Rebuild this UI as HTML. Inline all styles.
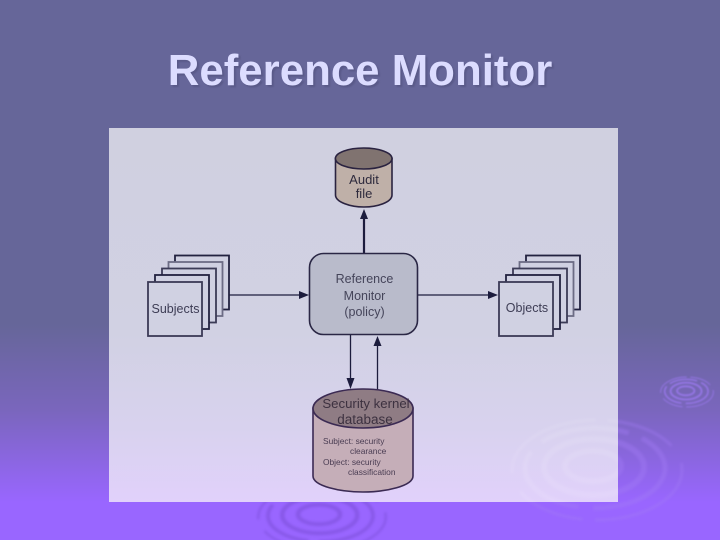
<!DOCTYPE html>
<html>
<head>
<meta charset="utf-8">
<style>
html,body{margin:0;padding:0;background:#666699;}
svg{display:block;}
text{font-family:"Liberation Sans",sans-serif;}
</style>
</head>
<body>
<svg xmlns="http://www.w3.org/2000/svg" width="720" height="540" viewBox="0 0 720 540">
<defs>
<linearGradient id="bg" x1="0" y1="0" x2="0" y2="1">
<stop offset="0" stop-color="#666699"/>
<stop offset="0.6" stop-color="#666699"/>
<stop offset="0.76" stop-color="#7a66bd"/>
<stop offset="0.93" stop-color="#9966ff"/>
<stop offset="1" stop-color="#9966ff"/>
</linearGradient>
<linearGradient id="panel" x1="0" y1="0" x2="0" y2="1">
<stop offset="0" stop-color="#d0d0e0"/>
<stop offset="0.55" stop-color="#d1d1e3"/>
<stop offset="0.8" stop-color="#d8d2ee"/>
<stop offset="1" stop-color="#e1d1fb"/>
</linearGradient>
<clipPath id="pc"><rect x="109" y="128" width="509" height="374"/></clipPath>
<filter id="b1" x="-20%" y="-20%" width="140%" height="140%"><feGaussianBlur stdDeviation="1.4"/></filter>
<filter id="b2" x="-20%" y="-20%" width="140%" height="140%"><feGaussianBlur stdDeviation="0.7"/></filter>
<filter id="b0" x="-5%" y="-5%" width="110%" height="110%"><feGaussianBlur stdDeviation="0.35"/></filter>
<g id="ripple" fill="none">
<ellipse cx="0" cy="0" rx="85" ry="50" stroke-width="3" stroke-dasharray="110 12 70 20"/>
<ellipse cx="-2" cy="-2" rx="70" ry="40" stroke-width="5" stroke-dasharray="90 14"/>
<ellipse cx="-3" cy="-3" rx="50" ry="28" stroke-width="6"/>
<ellipse cx="-4" cy="-4" rx="28" ry="15" stroke-width="6"/>
</g>
</defs>

<rect width="720" height="540" fill="url(#bg)"/>

<!-- background ripples -->
<g filter="url(#b1)" stroke="#a27af4" opacity="0.4">
<use href="#ripple" transform="translate(597 470)"/>
<use href="#ripple" transform="translate(322 517) scale(0.75 0.65)" stroke="#6f45c8"/>
</g>
<g filter="url(#b2)">
<use href="#ripple" transform="translate(687 392) scale(0.31 0.3)" stroke="#9a78ee" opacity="0.85"/>
</g>

<!-- title -->
<text x="362" y="87" text-anchor="middle" font-size="43.8" font-weight="bold" fill="#4f4f7c" opacity="0.55" filter="url(#b2)">Reference Monitor</text>
<text x="360" y="85" text-anchor="middle" font-size="43.8" font-weight="bold" fill="#dcdcff">Reference Monitor</text>

<!-- panel -->
<rect x="109" y="128" width="509" height="374" fill="url(#panel)"/>
<g clip-path="url(#pc)" filter="url(#b1)" stroke="#ffffff" opacity="0.09">
<use href="#ripple" transform="translate(597 470)"/>
</g>

<g filter="url(#b0)">
<!-- connectors -->
<g stroke="#1f1d3d" fill="none">
<line x1="364" y1="253" x2="364" y2="215" stroke-width="2.2"/>
<line x1="229" y1="295" x2="304" y2="295" stroke-width="1.3"/>
<line x1="418" y1="295" x2="492" y2="295" stroke-width="1.3"/>
<line x1="350.5" y1="335" x2="350.5" y2="382" stroke-width="1.3"/>
<line x1="377.5" y1="389" x2="377.5" y2="342" stroke-width="1.3"/>
</g>
<g fill="#1f1d3d">
<polygon points="364,209 360,219 368,219"/>
<polygon points="309,295 299,291 299,299"/>
<polygon points="498,295 488,291 488,299"/>
<polygon points="350.5,389 346.5,378 354.5,378"/>
<polygon points="377.5,336 373.5,346 381.5,346"/>
</g>

<!-- audit file -->
<path d="M335.5 158.5 V195 C335.5 202 350 207 364 207 C378 207 392 202 392 195 V158.5 Z" fill="#bfb0a8" stroke="#2a2440" stroke-width="1.6"/>
<ellipse cx="363.7" cy="158.5" rx="28.3" ry="10.5" fill="#80736f" stroke="#2a2440" stroke-width="1.6"/>
<text x="364" y="184" text-anchor="middle" font-size="13" fill="#2e2a3c">Audit</text>
<text x="364" y="198" text-anchor="middle" font-size="13" fill="#2e2a3c">file</text>

<!-- reference monitor -->
<rect x="309.5" y="253.5" width="108" height="81" rx="14" ry="14" fill="#b9bbcb" stroke="#2a2844" stroke-width="1.6"/>
<text x="364.5" y="283" text-anchor="middle" font-size="12.5" fill="#45445a">Reference</text>
<text x="364.5" y="300" text-anchor="middle" font-size="12.5" fill="#45445a">Monitor</text>
<text x="364.5" y="316" text-anchor="middle" font-size="12.5" fill="#45445a">(policy)</text>

<!-- subjects stack -->
<g fill="#d0d1e2" stroke-width="1.8">
<rect x="175" y="255.5" width="54" height="54" stroke="#23213f"/>
<rect x="168.5" y="262" width="54" height="54" stroke="#6c6c85"/>
<rect x="162" y="268.5" width="54" height="54" stroke="#3b3a56"/>
<rect x="155" y="275" width="54" height="54" stroke="#23213f"/>
<rect x="148" y="282" width="54" height="54" stroke="#3b3a56"/>
</g>
<text x="175.5" y="313" text-anchor="middle" font-size="12.5" fill="#3e3d55">Subjects</text>

<!-- objects stack -->
<g fill="#d0d1e2" stroke-width="1.8">
<rect x="526" y="255.5" width="54" height="54" stroke="#23213f"/>
<rect x="519.5" y="262" width="54" height="54" stroke="#6c6c85"/>
<rect x="513" y="268.5" width="54" height="54" stroke="#3b3a56"/>
<rect x="506" y="275" width="54" height="54" stroke="#23213f"/>
<rect x="499" y="282" width="54" height="54" stroke="#3b3a56"/>
</g>
<text x="527" y="312" text-anchor="middle" font-size="12.5" fill="#3e3d55">Objects</text>

<!-- security kernel database -->
<path d="M313 408 V476 C313 486 340 492 363 492 C386 492 413 486 413 476 V408 Z" fill="#c5aeb8" stroke="#3a2a52" stroke-width="1.6"/>
<ellipse cx="363" cy="408.5" rx="50" ry="19.5" fill="#8f7c84" stroke="#3a2a52" stroke-width="1.6"/>
<text x="366" y="408" text-anchor="middle" font-size="13.2" fill="#3c3040">Security kernel</text>
<text x="365" y="424" text-anchor="middle" font-size="13.5" fill="#3c3040">database</text>
<g font-size="8.4" fill="#4a3c52">
<text x="323" y="444">Subject: security</text>
<text x="350" y="454">clearance</text>
<text x="323" y="465">Object: security</text>
<text x="348" y="475">classification</text>
</g>
</g>
</svg>
</body>
</html>
